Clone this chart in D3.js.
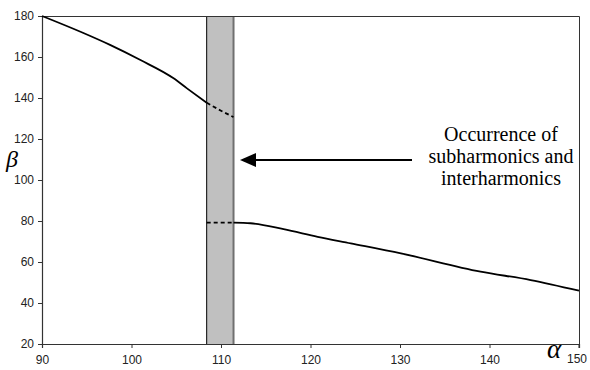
<!DOCTYPE html>
<html>
<head>
<meta charset="utf-8">
<script src="https://cdn.jsdelivr.net/npm/d3@7.9.0/dist/d3.min.js"></script>
<style>
  body { margin: 0; background: #fff; }
  svg { display: block; }
</style>
</head>
<body>
<svg id="chart" width="590" height="370"></svg>
<script>
// readings from the picture
const upperSolid = [[90, 180], [94.3, 172.3], [97.6, 165.9], [101, 158.5], [104.7, 149.6], [106.2, 144.7], [108.4, 137.7]];
const upperDashed = [[108.4, 137.7], [110, 133.8], [111.4, 130.7]];
const lowerDashed = [[108.4, 79.2], [111.4, 79.2]];
const lowerSolid = [[111.4, 79.2], [113.3, 78.9], [117, 76], [120.8, 72.3], [124.5, 69.1], [130.1, 64.2], [139, 55.3], [144.6, 51.2], [150, 46]];
const band = [108.4, 111.4];
const xTicks = [90, 100, 110, 120, 130, 140, 150];
const yTicks = [20, 40, 60, 80, 100, 120, 140, 160, 180];
const noteLines = ['Occurrence of', 'subharmonics and', 'interharmonics'];

const svg = d3.select('#chart');
const plotL = 42, plotR = 579, plotT = 16, plotB = 344;

const x = d3.scaleLinear().domain([90, 150]).range([plotL, plotR]);
const y = d3.scaleLinear().domain([20, 180]).range([plotB, plotT]);

// shaded band
svg.append('rect')
  .attr('x', x(band[0]))
  .attr('y', plotT)
  .attr('width', x(band[1]) - x(band[0]))
  .attr('height', plotB - plotT)
  .attr('fill', '#c0c0c0');
svg.append('line')
  .attr('x1', x(band[0])).attr('x2', x(band[0]))
  .attr('y1', plotT).attr('y2', plotB)
  .attr('stroke', '#000').attr('stroke-width', 1);
svg.append('line')
  .attr('x1', x(band[1])).attr('x2', x(band[1]))
  .attr('y1', plotT).attr('y2', plotB)
  .attr('stroke', '#707070').attr('stroke-width', 2);

// frame top + right
svg.append('path')
  .attr('d', `M${plotL},${plotT + 0.5}H${plotR + 0.5}V${plotB}`)
  .attr('fill', 'none')
  .attr('stroke', '#333');

// axes
const xAxis = d3.axisBottom(x).tickValues(xTicks.slice(0, -1)).tickSize(4).tickFormat(d3.format('d'));
const gx = svg.append('g').attr('transform', `translate(0,${plotB})`).call(xAxis);
const yAxis = d3.axisLeft(y).tickValues(yTicks).tickSize(4).tickFormat(d3.format('d'));
const gy = svg.append('g').attr('transform', `translate(${plotL},0)`).call(yAxis);

[gx, gy].forEach(g => {
  g.select('.domain').attr('stroke', '#333').attr('stroke-width', 1.2);
  g.selectAll('.tick line').attr('stroke', '#333');
  g.selectAll('.tick text')
    .attr('font-family', 'Liberation Sans, Arial, sans-serif')
    .attr('font-size', 12)
    .attr('fill', '#222');
});
gx.selectAll('.tick text').attr('dy', '1.1em');
gy.selectAll('.tick text').attr('dx', '-1');

// last x tick label sits after the alpha symbol
svg.append('text')
  .attr('x', x(150) - 2).attr('y', plotB + 19)
  .attr('text-anchor', 'middle')
  .attr('font-family', 'Liberation Sans, Arial, sans-serif')
  .attr('font-size', 12).attr('fill', '#222')
  .text(xTicks[xTicks.length - 1]);
svg.append('line')
  .attr('x1', x(150)).attr('x2', x(150))
  .attr('y1', plotB).attr('y2', plotB + 4)
  .attr('stroke', '#333');

// curves
const line = d3.line().x(d => x(d[0])).y(d => y(d[1])).curve(d3.curveMonotoneX);
const drawLine = (data, dashed) => svg.append('path')
  .datum(data)
  .attr('d', line)
  .attr('fill', 'none')
  .attr('stroke', '#000')
  .attr('stroke-width', 1.8)
  .attr('stroke-dasharray', dashed ? '4,3' : null);
drawLine(upperSolid, false);
drawLine(upperDashed, true);
drawLine(lowerDashed, true);
drawLine(lowerSolid, false);

// arrow
const arrowY = 160;
svg.append('line')
  .attr('x1', 412).attr('x2', 252)
  .attr('y1', arrowY).attr('y2', arrowY)
  .attr('stroke', '#000').attr('stroke-width', 2);
svg.append('path')
  .attr('d', `M240,${arrowY}L256,${arrowY - 7}L256,${arrowY + 7}Z`)
  .attr('fill', '#000');

// annotation
const note = svg.append('text')
  .attr('font-family', 'Liberation Serif, Times New Roman, serif')
  .attr('font-size', 20)
  .attr('text-anchor', 'middle');
noteLines.forEach((t, i) => {
  note.append('tspan').attr('x', 501).attr('y', 141 + i * 22).text(t);
});

// greek axis symbols
svg.append('text')
  .attr('x', 6).attr('y', 167)
  .attr('font-family', 'Liberation Serif, Times New Roman, serif')
  .attr('font-style', 'italic')
  .attr('font-size', 24)
  .text('β');
svg.append('text')
  .attr('x', 547).attr('y', 358)
  .attr('font-family', 'Liberation Serif, Times New Roman, serif')
  .attr('font-style', 'italic')
  .attr('font-size', 27)
  .text('α');
</script>
</body>
</html>
